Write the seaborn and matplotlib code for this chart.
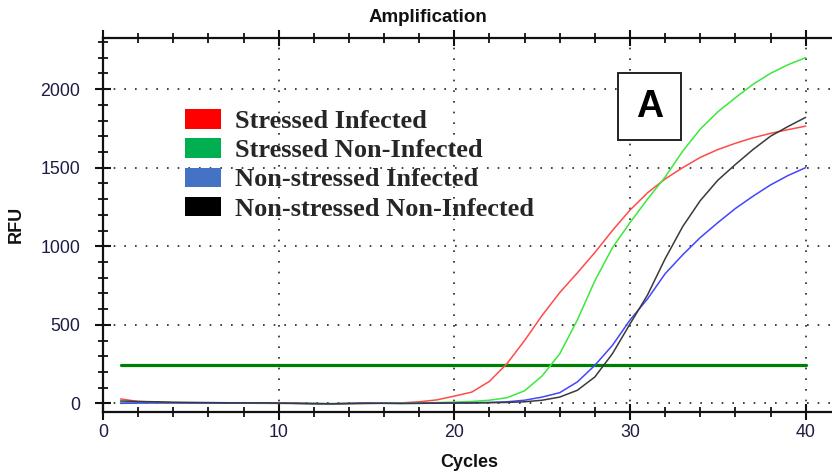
import numpy as np
import pandas as pd
import matplotlib
matplotlib.use("Agg")
import matplotlib.pyplot as plt
from matplotlib.patches import Patch, Rectangle
import seaborn as sns

# Amplification data (RFU per cycle)
cycles = list(range(1, 41))
stressed_infected = [28, 12, 8, 5, 4, 3, 2, 2, 1, 0, 0, -2, -3, -2, 0, 1, 3, 10, 22, 46,
                     72, 140, 253, 400, 560, 705, 830, 960, 1100, 1230, 1340, 1428, 1500, 1565, 1615,
                     1655, 1690, 1718, 1742, 1764]
stressed_non_infected = [5, 4, 3, 3, 2, 2, 1, 1, 0, 0, 0, -1, -2, -1, 0, 1, 2, 3, 5, 8,
                         12, 20, 36, 80, 175, 315, 530, 780, 990, 1150, 1300, 1440, 1605, 1745, 1855,
                         1945, 2030, 2100, 2155, 2200]
non_stressed_infected = [0, 2, 3, 3, 2, 2, 1, 2, 3, 1, 0, -1, -2, 0, 2, 1, 0, 1, 2, 3,
                         4, 6, 10, 20, 40, 68, 136, 242, 369, 530, 665, 825, 945, 1055, 1150,
                         1240, 1318, 1390, 1450, 1500]
non_stressed_non_infected = [15, 12, 10, 7, 6, 5, 4, 3, 3, 2, 0, -2, -3, -1, 0, 0, -1, 0, 1, 2,
                             2, 4, 6, 10, 20, 40, 83, 168, 316, 505, 690, 920, 1125, 1290, 1420,
                             1520, 1615, 1700, 1762, 1820]
threshold = 242
threshold_span = [1, 40]

groups = ["Stressed Infected", "Stressed Non-Infected",
          "Non-stressed Infected", "Non-stressed Non-Infected"]
line_colors = ["#ff4a4a", "#3be83b", "#4444ff", "#3a3a3a"]
legend_colors = ["#ff0000", "#00b050", "#4472c4", "#000000"]

series = [stressed_infected, stressed_non_infected,
          non_stressed_infected, non_stressed_non_infected]
df = pd.concat(
    [pd.DataFrame({"Cycle": cycles, "RFU": vals, "Group": g}) for g, vals in zip(groups, series)],
    ignore_index=True,
)

sns.set_style("ticks")
plt.rcParams["font.family"] = ["Liberation Sans", "DejaVu Sans"]

fig = plt.figure(figsize=(8.32, 4.74), dpi=100)
ax = fig.add_axes([103 / 832, 1 - 412 / 474, 1 - 103 / 832, (412 - 38) / 474])

sns.lineplot(data=df, x="Cycle", y="RFU", hue="Group", hue_order=groups,
             palette=dict(zip(groups, line_colors)), linewidth=1.1,
             legend=False, ax=ax, zorder=3)

# threshold line
ax.plot(threshold_span, [threshold, threshold], color="#008000", linewidth=2.3, zorder=2)

ax.set_xlim(0, 41.5)
ax.set_ylim(-55, 2325)
ax.set_xticks([0, 10, 20, 30, 40])
ax.set_xticks(np.arange(0, 41, 2), minor=True)
ax.set_yticks([0, 500, 1000, 1500, 2000])
ax.set_yticks(np.arange(0, 2301, 100), minor=True)

ax.grid(True, which="major", color="#222222", linestyle=(0, (1, 5.4)), linewidth=1.2)
ax.set_axisbelow(True)

for side in ["left", "bottom", "top"]:
    ax.spines[side].set_linewidth(1.6)
    ax.spines[side].set_color("#111111")
ax.spines["right"].set_visible(False)

ax.tick_params(which="major", direction="inout", length=11, width=1.5, color="#111111",
               labelsize=12.8, labelcolor="#1c1c44")
ax.tick_params(which="minor", direction="inout", length=7, width=1.3, color="#111111")
ax.tick_params(axis="x", which="both", top=True, bottom=True)
ax.tick_params(axis="x", which="major", pad=3)
ax.tick_params(axis="y", which="major", pad=11)

ax.set_xlabel("Cycles", fontsize=13, fontweight="bold", color="#111111")
ax.set_ylabel("RFU", fontsize=13, fontweight="bold", color="#111111")
ax.xaxis.set_label_coords(0.503, -0.112)
ax.yaxis.set_label_coords(-0.108, 0.502)

fig.text(428 / 832, 1 - 18 / 474, "Amplification", ha="center", va="center",
         fontsize=13.5, fontweight="bold", color="#111111")

handles = [Patch(facecolor=c, edgecolor="none", label=g) for g, c in zip(groups, legend_colors)]
leg = ax.legend(handles=handles, loc="upper left", bbox_to_anchor=(0.1125, 0.81),
                frameon=False, handlelength=1.36, handleheight=0.76, handletextpad=0.53,
                labelspacing=0.2, borderaxespad=0, borderpad=0,
                prop={"family": "Liberation Serif", "weight": "bold", "size": 19})

# panel tag
ax.add_patch(Rectangle((0.7064, 0.727), 0.0864, 0.179, transform=ax.transAxes,
                       facecolor="white", edgecolor="#222222", linewidth=1.4, zorder=5))
ax.text(0.7496, 0.8165, "A", transform=ax.transAxes, ha="center", va="center",
        fontsize=27, fontweight="bold", color="black", zorder=6)

fig.savefig("out.png", dpi=100)
